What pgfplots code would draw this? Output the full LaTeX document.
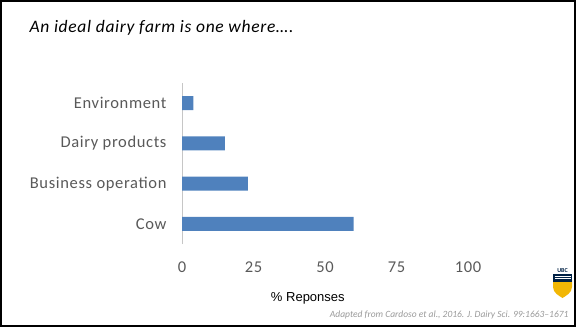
\documentclass[border=0pt]{standalone}
\usepackage{pgfplots}
\pgfplotsset{compat=1.18}
\usepackage{fontspec}
\setmainfont{Carlito}
\newfontfamily\arialfont{Liberation Sans}
\definecolor{barblue}{HTML}{4F81BD}
\definecolor{labgray}{HTML}{595959}
\definecolor{ubcblue}{HTML}{002145}
\definecolor{ubcgold}{HTML}{F2B705}
\begin{document}
\begin{tikzpicture}[x=1pt,y=1pt]
\path[use as bounding box] (0,0) rectangle (576,327);
\draw[black, line width=2pt] (1,1) rectangle (575,326);
\node[anchor=west, font=\itshape\fontsize{17.5}{19}\selectfont\addfontfeature{LetterSpace=4}] at (26,299) {An ideal dairy farm is one where\dots.};
\begin{axis}[
  at={(182pt,83pt)}, anchor=south west,
  scale only axis, width=286pt, height=161pt,
  xmin=0, xmax=100, ymin=-0.5, ymax=3.5,
  xbar, bar width=14pt,
  axis y line*=left, axis x line*=bottom,
  x axis line style={draw=none},
  y axis line style={draw=gray!45, line width=0.6pt},
  major tick length=0pt,
  xtick={0,25,50,75,100},
  ytick={0,1,2,3},
  yticklabels={Cow,Business operation,Dairy products,Environment},
  ticklabel style={font=\fontsize{16.5}{18}\selectfont\addfontfeature{LetterSpace=4}, text=labgray},
  xticklabel style={anchor=center, yshift=-23pt},
  yticklabel style={anchor=east, xshift=-12pt},
  /pgf/number format/assume math mode=true,
  xlabel={\arialfont\% Reponses},
  xlabel style={font=\fontsize{13}{15}\selectfont, at={(0.44,0)}, anchor=center, yshift=-54pt},
  clip=false,
]
\addplot[fill=barblue, draw=none] coordinates {(60,0) (23,1) (15,2) (4,3)};
\end{axis}
\node[anchor=east, font=\itshape\fontsize{9.5}{11}\selectfont, text=gray!80] at (572,12) {Adapted from Cardoso et al., 2016. J. Dairy Sci. 99:1663--1671};
% UBC logo
\begin{scope}[shift={(562.5,45)}]
\fill[white] (-9.5,14) rectangle (9.5,8);
\node[text=ubcblue, font=\bfseries\fontsize{6}{6}\selectfont, inner sep=0] at (0,11.5) {UBC};
\fill[ubcblue] (-9.5,8) rectangle (9.5,2);
\draw[white, line width=0.5pt] (-8,6) -- (8,6) (-8,4) -- (8,4);
\fill[ubcgold] (-9.5,2) -- (9.5,2) -- (9.5,-5) .. controls (9.5,-11) and (3,-14) .. (0,-16) .. controls (-3,-14) and (-9.5,-11) .. (-9.5,-5) -- cycle;
\fill[ubcblue] (-9.5,2) rectangle (9.5,0.5);
\end{scope}
\end{tikzpicture}
\end{document}
